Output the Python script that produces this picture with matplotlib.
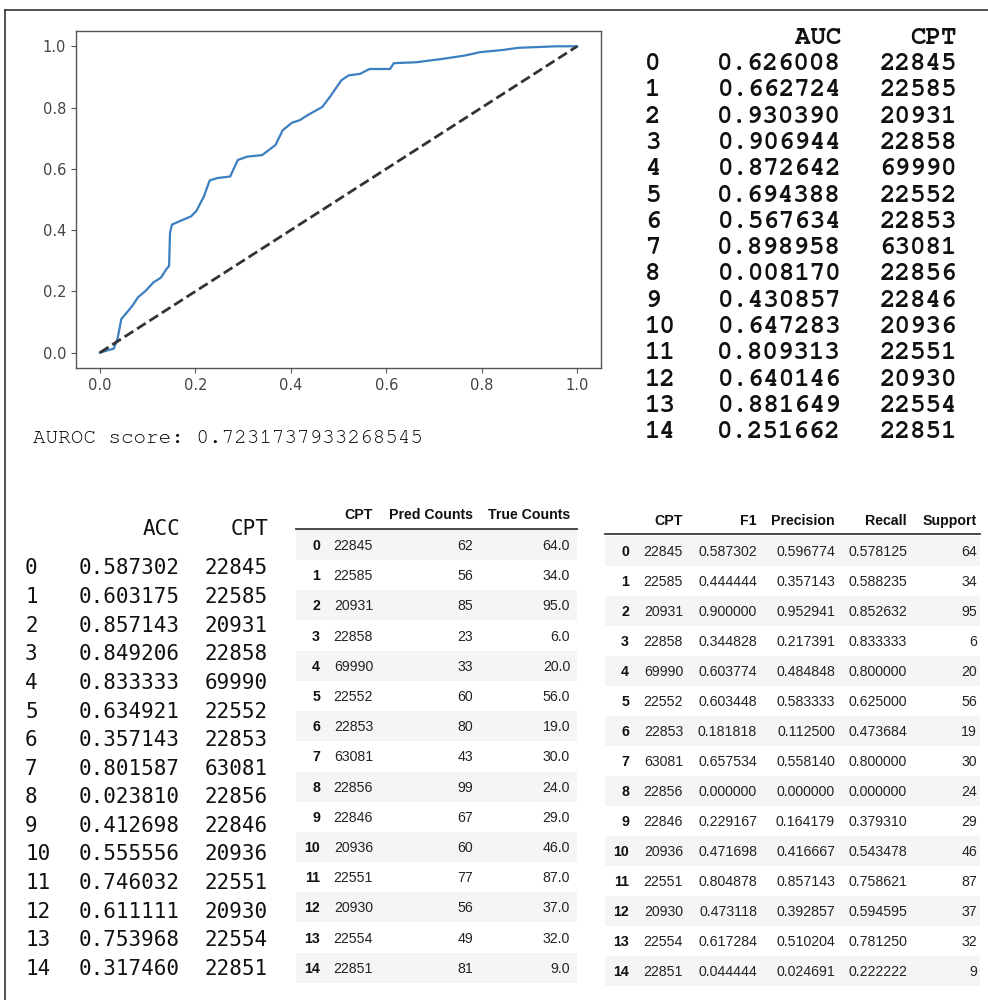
import matplotlib
matplotlib.use("Agg")
import matplotlib.pyplot as plt
from matplotlib import font_manager
from matplotlib.transforms import Affine2D
from matplotlib.patches import Rectangle
from matplotlib.lines import Line2D
import numpy as np

# ---------------- data ----------------
fpr = [0.0, 0.017, 0.029, 0.037, 0.045, 0.057, 0.0685, 0.080, 0.096, 0.112, 0.128, 0.139, 0.145,
       0.147, 0.151, 0.167, 0.191, 0.202, 0.218, 0.230, 0.246, 0.273, 0.289, 0.309, 0.340, 0.368,
       0.383, 0.403, 0.419, 0.435, 0.466, 0.482, 0.506, 0.521, 0.545, 0.565, 0.608, 0.616, 0.663,
       0.718, 0.765, 0.797, 0.844, 0.876, 0.954, 1.0]
tpr = [0.0, 0.008, 0.013, 0.045, 0.110, 0.132, 0.154, 0.181, 0.202, 0.229, 0.245, 0.272, 0.283,
       0.391, 0.418, 0.429, 0.445, 0.462, 0.510, 0.562, 0.570, 0.575, 0.629, 0.640, 0.645, 0.678,
       0.726, 0.751, 0.759, 0.775, 0.802, 0.835, 0.889, 0.905, 0.910, 0.926, 0.926, 0.945, 0.948,
       0.959, 0.970, 0.981, 0.988, 0.995, 1.0, 1.0]
auroc_text = "AUROC score: 0.7231737933268545"

idx = list(range(15))
cpt = [22845, 22585, 20931, 22858, 69990, 22552, 22853, 63081, 22856, 22846, 20936, 22551, 20930, 22554, 22851]
auc = [0.626008, 0.662724, 0.930390, 0.906944, 0.872642, 0.694388, 0.567634, 0.898958, 0.008170,
       0.430857, 0.647283, 0.809313, 0.640146, 0.881649, 0.251662]
acc = [0.587302, 0.603175, 0.857143, 0.849206, 0.833333, 0.634921, 0.357143, 0.801587, 0.023810,
       0.412698, 0.555556, 0.746032, 0.611111, 0.753968, 0.317460]
pred_counts = [62, 56, 85, 23, 33, 60, 80, 43, 99, 67, 60, 77, 56, 49, 81]
true_counts = [64.0, 34.0, 95.0, 6.0, 20.0, 56.0, 19.0, 30.0, 24.0, 29.0, 46.0, 87.0, 37.0, 32.0, 9.0]
f1 = [0.587302, 0.444444, 0.900000, 0.344828, 0.603774, 0.603448, 0.181818, 0.657534, 0.000000,
      0.229167, 0.471698, 0.804878, 0.473118, 0.617284, 0.044444]
precision = [0.596774, 0.357143, 0.952941, 0.217391, 0.484848, 0.583333, 0.112500, 0.558140, 0.000000,
             0.164179, 0.416667, 0.857143, 0.392857, 0.510204, 0.024691]
recall = [0.578125, 0.588235, 0.852632, 0.833333, 0.800000, 0.625000, 0.473684, 0.800000, 0.000000,
          0.379310, 0.543478, 0.758621, 0.594595, 0.781250, 0.222222]
support = [64, 34, 95, 6, 20, 56, 19, 30, 24, 29, 46, 87, 37, 32, 9]

# ---------------- fonts ----------------
avail = {f.name for f in font_manager.fontManager.ttflist}
def pick(cands):
    for c in cands:
        if c in avail:
            return c
    return "DejaVu Sans"
COURIER = pick(["Nimbus Mono PS", "Nimbus Mono L", "FreeMono", "Courier New", "Courier", "Liberation Mono"])
MENLO = pick(["DejaVu Sans Mono", "Liberation Mono"])
HELV = pick(["Liberation Sans", "Arimo", "DejaVu Sans"])

W, H = 988, 1000
fig = plt.figure(figsize=(W / 100, H / 100), dpi=100)
fig.patch.set_facecolor("white")
px = Affine2D().scale(1 / W, -1 / H).translate(0, 1) + fig.transFigure

def T(x, y, s, **kw):
    fig.text(x, y, s, transform=px, va="baseline", **kw)

# border
fig.add_artist(Line2D([5, W], [10, 10], transform=px, color="#333333", lw=1.2))
fig.add_artist(Line2D([5, 5], [10, H], transform=px, color="#333333", lw=1.2))

# ---------------- ROC axes ----------------
ax = fig.add_axes([76 / W, 1 - 368 / H, (601 - 76) / W, (368 - 31) / H])
ax.plot(fpr, tpr, color="#3b7fc0", lw=1.6)
ax.plot([0, 1], [0, 1], "k--", lw=2, color="#333333")
ax.set_xticks(np.arange(0, 1.01, 0.2))
ax.set_yticks(np.arange(0, 1.01, 0.2))
ax.tick_params(labelsize=10.5, colors="#555555", labelcolor="#444444")
for sp in ax.spines.values():
    sp.set_color("#555555")
    sp.set_linewidth(1.0)

T(33, 443, auroc_text, fontsize=15, family=COURIER, color="#000000")

# ---------------- top-right table (AUC) ----------------
fs = 18.5
T(841, 44, "AUC", fontsize=fs, family=COURIER, weight="bold", ha="right", color="#111111")
T(957, 44, "CPT", fontsize=fs, family=COURIER, weight="bold", ha="right", color="#111111")
for i in idx:
    yb = 62 + 26.3 * i + 8
    T(645, yb, str(i), fontsize=fs, family=COURIER, weight="bold", ha="left", color="#111111")
    T(841, yb, f"{auc[i]:.6f}", fontsize=fs, family=COURIER, weight="bold", ha="right", color="#111111")
    T(957, yb, str(cpt[i]), fontsize=fs, family=COURIER, weight="bold", ha="right", color="#111111")

# ---------------- bottom-left table (ACC) ----------------
fs2 = 15
T(180, 535, "ACC", fontsize=fs2, family=MENLO, ha="right", color="#111111")
T(268, 535, "CPT", fontsize=fs2, family=MENLO, ha="right", color="#111111")
for i in idx:
    yb = 567 + 28.6 * i + 7.5
    T(25, yb, str(i), fontsize=fs2, family=MENLO, ha="left", color="#111111")
    T(180, yb, f"{acc[i]:.6f}", fontsize=fs2, family=MENLO, ha="right", color="#111111")
    T(268, yb, str(cpt[i]), fontsize=fs2, family=MENLO, ha="right", color="#111111")

# ---------------- middle table (counts) ----------------
fs3 = 10.2
hy = 519
T(373, hy, "CPT", fontsize=fs3, family=HELV, weight="bold", ha="right", color="#111111")
T(473, hy, "Pred Counts", fontsize=fs3, family=HELV, weight="bold", ha="right", color="#111111")
T(570, hy, "True Counts", fontsize=fs3, family=HELV, weight="bold", ha="right", color="#111111")
fig.add_artist(Line2D([296, 577], [528.5, 528.5], transform=px, color="#3a3a3a", lw=1.3))
for i in idx:
    yc = 545 + 30.2 * i
    if i % 2 == 0:
        fig.add_artist(Rectangle((296, yc - 15), 281, 30, transform=px, facecolor="#f5f5f5",
                                 edgecolor="none", zorder=0))
    yb = yc + 5
    T(320, yb, str(i), fontsize=fs3, family=HELV, weight="bold", ha="right", color="#111111")
    T(373, yb, str(cpt[i]), fontsize=fs3, family=HELV, ha="right", color="#222222")
    T(473, yb, str(pred_counts[i]), fontsize=fs3, family=HELV, ha="right", color="#222222")
    T(570, yb, f"{true_counts[i]:.1f}", fontsize=fs3, family=HELV, ha="right", color="#222222")

# ---------------- right table (metrics) ----------------
hy2 = 525
cols_r = [683, 757, 835, 907, 977]
heads = ["CPT", "F1", "Precision", "Recall", "Support"]
for xr, h in zip(cols_r, heads):
    T(xr, hy2, h, fontsize=fs3, family=HELV, weight="bold", ha="right", color="#111111")
fig.add_artist(Line2D([605, 980], [534, 534], transform=px, color="#3a3a3a", lw=1.3))
for i in idx:
    yc = 551 + 30 * i
    if i % 2 == 0:
        fig.add_artist(Rectangle((605, yc - 15), 375, 30, transform=px, facecolor="#f5f5f5",
                                 edgecolor="none", zorder=0))
    yb = yc + 5
    T(629, yb, str(i), fontsize=fs3, family=HELV, weight="bold", ha="right", color="#111111")
    vals = [str(cpt[i]), f"{f1[i]:.6f}", f"{precision[i]:.6f}", f"{recall[i]:.6f}", str(support[i])]
    for xr, v in zip(cols_r, vals):
        T(xr, yb, v, fontsize=fs3, family=HELV, ha="right", color="#222222")

fig.savefig("out.png", dpi=100)
